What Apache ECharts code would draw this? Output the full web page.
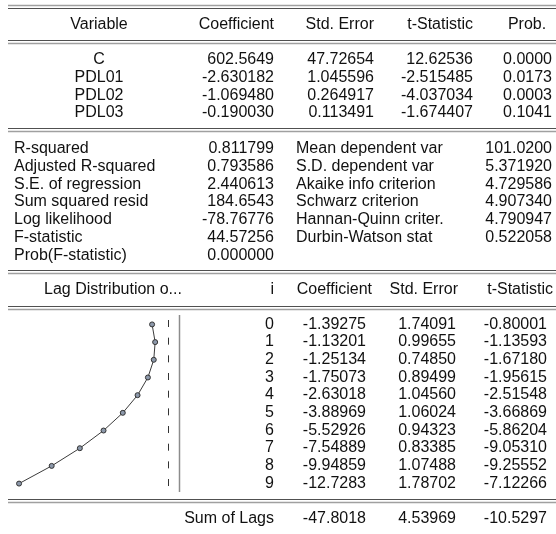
<!DOCTYPE html>
<html>
<head>
<meta charset="utf-8">
<script src="https://cdn.jsdelivr.net/npm/echarts@6/dist/echarts.min.js"></script>
<style>
  html, body { margin: 0; padding: 0; background: #ffffff; }
  #main { width: 556px; height: 534px; }
</style>
</head>
<body>
<div id="main"></div>
<script>
// ---- Regression output: coefficient table ----
const topHeader = ['Variable', 'Coefficient', 'Std. Error', 't-Statistic', 'Prob.'];
const variables = ['C', 'PDL01', 'PDL02', 'PDL03'];
const varCoef = ['602.5649', '-2.630182', '-1.069480', '-0.190030'];
const varStdErr = ['47.72654', '1.045596', '0.264917', '0.113491'];
const varTStat = ['12.62536', '-2.515485', '-4.037034', '-1.674407'];
const varProb = ['0.0000', '0.0173', '0.0003', '0.1041'];

// ---- Summary statistics ----
const statLabelsLeft = ['R-squared', 'Adjusted R-squared', 'S.E. of regression', 'Sum squared resid',
  'Log likelihood', 'F-statistic', 'Prob(F-statistic)'];
const statValuesLeft = ['0.811799', '0.793586', '2.440613', '184.6543', '-78.76776', '44.57256', '0.000000'];
const statLabelsRight = ['Mean dependent var', 'S.D. dependent var', 'Akaike info criterion',
  'Schwarz criterion', 'Hannan-Quinn criter.', 'Durbin-Watson stat'];
const statValuesRight = ['101.0200', '5.371920', '4.729586', '4.907340', '4.790947', '0.522058'];

// ---- Polynomial distributed lag weights ----
const lagHeader = ['Lag Distribution o...', 'i', 'Coefficient', 'Std. Error', 't-Statistic'];
const lags = [0, 1, 2, 3, 4, 5, 6, 7, 8, 9];
const lagCoef = ['-1.39275', '-1.13201', '-1.25134', '-1.75073', '-2.63018',
  '-3.88969', '-5.52926', '-7.54889', '-9.94859', '-12.7283'];
const lagStdErr = ['1.74091', '0.99655', '0.74850', '0.89499', '1.04560',
  '1.06024', '0.94323', '0.83385', '1.07488', '1.78702'];
const lagTStat = ['-0.80001', '-1.13593', '-1.67180', '-1.95615', '-2.51548',
  '-3.66869', '-5.86204', '-9.05310', '-9.25552', '-7.12266'];
const sumRow = ['Sum of Lags', '-47.8018', '4.53969', '-10.5297'];

// ---- drawing helpers ----
const FONT = '16px "Liberation Sans", Arial, sans-serif';
const INK = '#111111';
const elements = [];

function txt(s, x, y, align) {
  elements.push({
    type: 'text', silent: true,
    style: { text: s, x: x, y: y, font: FONT, fill: INK, textAlign: align || 'left', textVerticalAlign: 'middle' }
  });
}
function rule(y, color, w) {
  elements.push({
    type: 'line', silent: true,
    shape: { x1: 8, y1: y, x2: 556, y2: y },
    style: { stroke: color, lineWidth: w || 1 }
  });
}
function doubleRule(y, firstLight) {
  rule(y + 0.5, firstLight ? '#a0a0a0' : '#505050', firstLight ? 1.5 : 1);
  rule(y + 3.5, firstLight ? '#505050' : '#a0a0a0', firstLight ? 1 : 1.5);
}

// horizontal rules
doubleRule(5, true);
doubleRule(40, false);
doubleRule(128, false);
doubleRule(270, false);
doubleRule(306, false);
doubleRule(499, false);

// coefficient table
const rowH = 17.65;
txt(topHeader[0], 99, 25, 'center');
txt(topHeader[1], 274, 25, 'right');
txt(topHeader[2], 374, 25, 'right');
txt(topHeader[3], 473, 25, 'right');
txt(topHeader[4], 527, 25, 'center');
variables.forEach((v, k) => {
  const y = 60 + k * rowH;
  txt(v, 99, y, 'center');
  txt(varCoef[k], 274, y, 'right');
  txt(varStdErr[k], 374, y, 'right');
  txt(varTStat[k], 473, y, 'right');
  txt(varProb[k], 552, y, 'right');
});

// statistics block
statLabelsLeft.forEach((s, k) => {
  const y = 148.5 + k * 17.8;
  txt(s, 14, y, 'left');
  txt(statValuesLeft[k], 274, y, 'right');
  if (k < statLabelsRight.length) {
    txt(statLabelsRight[k], 296, y, 'left');
    txt(statValuesRight[k], 552, y, 'right');
  }
});

// lag table
txt(lagHeader[0], 113, 290, 'center');
txt(lagHeader[1], 274, 290, 'right');
txt(lagHeader[2], 372, 290, 'right');
txt(lagHeader[3], 458, 290, 'right');
txt(lagHeader[4], 553, 290, 'right');
lags.forEach((i, k) => {
  const y = 324.3 + k * rowH;
  txt(String(i), 274, y, 'right');
  txt(lagCoef[k], 366, y, 'right');
  txt(lagStdErr[k], 456, y, 'right');
  txt(lagTStat[k], 547, y, 'right');
});
txt(sumRow[0], 274, 518.5, 'right');
txt(sumRow[1], 366, 518.5, 'right');
txt(sumRow[2], 456, 518.5, 'right');
txt(sumRow[3], 547, 518.5, 'right');

// column separator beside the lag plot
elements.push({
  type: 'line', silent: true,
  shape: { x1: 179.5, y1: 315, x2: 179.5, y2: 492 },
  style: { stroke: '#8c8c8c', lineWidth: 1.5 }
});

const chart = echarts.init(document.getElementById('main'), null, { renderer: 'canvas' });
chart.setOption({
  animation: false,
  backgroundColor: '#ffffff',
  grid: { left: 10, width: 169, top: 320, height: 168, containLabel: false },
  xAxis: { type: 'value', min: -13.5, max: 0.9, show: false },
  yAxis: { type: 'value', min: -0.25, max: 9.25, inverse: true, show: false },
  graphic: elements,
  series: [{
    type: 'line',
    data: lags.map((i, k) => [parseFloat(lagCoef[k]), i]),
    symbol: 'circle',
    symbolSize: 5,
    showSymbol: true,
    lineStyle: { color: '#3c3c3c', width: 1 },
    itemStyle: { color: '#8c98aa', borderColor: '#333333', borderWidth: 1 },
    markLine: {
      silent: true,
      symbol: 'none',
      label: { show: false },
      lineStyle: { color: '#333333', width: 1, type: [7, 10.67] },
      data: [{ xAxis: 0 }]
    }
  }]
});
</script>
</body>
</html>
